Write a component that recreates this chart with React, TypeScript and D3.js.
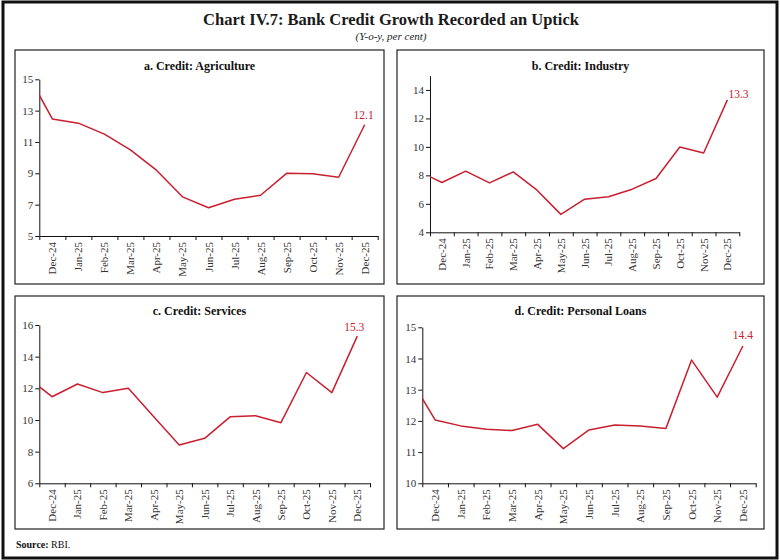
import React, { useEffect, useRef } from 'react'

import * as d3 from 'd3'

// Months; the first one (Nov-24) sits left of the axis and is clipped away
const months = [
  'Nov-24', 'Dec-24', 'Jan-25', 'Feb-25', 'Mar-25', 'Apr-25', 'May-25',
  'Jun-25', 'Jul-25', 'Aug-25', 'Sep-25', 'Oct-25', 'Nov-25', 'Dec-25',
]

// Y-o-y growth, per cent
const agriculture = [15.5, 12.47, 12.2, 11.5, 10.5, 9.2, 7.5, 6.8, 7.35, 7.6, 9.0, 8.97, 8.75, 12.1]
const industry = [8.3, 7.5, 8.3, 7.47, 8.24, 6.96, 5.26, 6.33, 6.5, 7.03, 7.78, 9.99, 9.57, 13.3]
const services = [12.73, 11.47, 12.27, 11.73, 12.0, 10.2, 8.42, 8.84, 10.2, 10.27, 9.83, 13.0, 11.73, 15.3]
const personalLoans = [13.41, 12.03, 11.84, 11.73, 11.69, 11.89, 11.11, 11.71, 11.87, 11.84, 11.76, 13.95, 12.76, 14.4]

const agriTicks = [5, 7, 9, 11, 13, 15]
const industryTicks = [4, 6, 8, 10, 12, 14]
const servicesTicks = [6, 8, 10, 12, 14, 16]
const loansTicks = [10, 11, 12, 13, 14, 15]

const lastLabels = ['12.1', '13.3', '15.3', '14.4']

const RED = '#c8202f'
const FONT = '"Liberation Serif", "DejaVu Serif", serif'

const panels = [
  {
    title: 'a. Credit: Agriculture', values: agriculture, ticks: agriTicks, domain: [5, 15],
    box: { x: 15, y: 50, w: 369, h: 234 }, plot: { x0: 39.3, x1: 377.7, y0: 79.3, y1: 236 },
    titleY: 70, label: lastLabels[0], dx: -1, dy: -6, anchor: 'middle',
  },
  {
    title: 'b. Credit: Industry', values: industry, ticks: industryTicks, domain: [4, 15],
    box: { x: 397, y: 50, w: 367, h: 234 }, plot: { x0: 430, x1: 739.3, y0: 75.7, y1: 232.3 },
    titleY: 70, label: lastLabels[1], dx: 1, dy: -2, anchor: 'start',
  },
  {
    title: 'c. Credit: Services', values: services, ticks: servicesTicks, domain: [6, 16],
    box: { x: 15, y: 296, w: 369, h: 233 }, plot: { x0: 39.3, x1: 370, y0: 325, y1: 483.3 },
    titleY: 315, label: lastLabels[2], dx: -3, dy: -5, anchor: 'middle',
  },
  {
    title: 'd. Credit: Personal Loans', values: personalLoans, ticks: loansTicks, domain: [10, 15],
    box: { x: 397, y: 296, w: 367, h: 233 }, plot: { x0: 422.3, x1: 755.7, y0: 327.3, y1: 483.3 },
    titleY: 315, label: lastLabels[3], dx: 0, dy: -7, anchor: 'middle',
  },
]

const App: React.FC = () => {
  const ref = useRef<SVGSVGElement | null>(null)

  useEffect(() => {
    document.body.style.margin = '0'
    const svg = d3.select(ref.current)
    svg.selectAll('*').remove()

    // Outer frame
    svg.append('rect')
      .attr('x', 3).attr('y', 2).attr('width', 774).attr('height', 556)
      .attr('fill', 'none').attr('stroke', '#111').attr('stroke-width', 3)

    svg.append('text')
      .attr('x', 391).attr('y', 25)
      .attr('text-anchor', 'middle')
      .attr('font-family', FONT).attr('font-size', 16.5).attr('font-weight', 'bold')
      .attr('fill', '#1a1a1a')
      .text('Chart IV.7: Bank Credit Growth Recorded an Uptick')

    svg.append('text')
      .attr('x', 391).attr('y', 40)
      .attr('text-anchor', 'middle')
      .attr('font-family', FONT).attr('font-size', 11).attr('font-style', 'italic')
      .attr('fill', '#222')
      .text('(Y-o-y, per cent)')

    panels.forEach((p, k) => {
      const g = svg.append('g')

      g.append('rect')
        .attr('x', p.box.x).attr('y', p.box.y).attr('width', p.box.w).attr('height', p.box.h)
        .attr('fill', 'none').attr('stroke', '#222').attr('stroke-width', 1.2)

      g.append('text')
        .attr('x', p.box.x + p.box.w / 2).attr('y', p.titleY)
        .attr('text-anchor', 'middle')
        .attr('font-family', FONT).attr('font-size', 12).attr('font-weight', 'bold')
        .attr('fill', '#111')
        .text(p.title)

      const x = d3.scaleLinear().domain([0.5, months.length - 0.5]).range([p.plot.x0, p.plot.x1])
      const y = d3.scaleLinear().domain(p.domain).range([p.plot.y1, p.plot.y0])

      // Y axis
      const ya = g.append('g')
        .attr('transform', `translate(${p.plot.x0},0)`)
        .call(d3.axisLeft(y).tickValues(p.ticks).tickSize(4).tickSizeOuter(0).tickFormat(d3.format('d')))
      ya.select('.domain').attr('stroke', '#111')
      ya.selectAll('.tick line').attr('stroke', '#111')
      ya.selectAll('.tick text')
        .attr('font-family', FONT).attr('font-size', 11).attr('fill', '#333').attr('x', -6)

      // X axis: ticks at category boundaries, labels at centres
      const xa = g.append('g')
        .attr('transform', `translate(0,${p.plot.y1})`)
        .call(d3.axisBottom(x).tickValues(d3.range(0.5, months.length, 1)).tickSize(4).tickSizeOuter(0).tickFormat(() => ''))
      xa.select('.domain').attr('stroke', '#111')
      xa.selectAll('.tick line').attr('stroke', '#111')

      g.selectAll('.xlab')
        .data(months.slice(1))
        .enter()
        .append('text')
        .attr('class', 'xlab')
        .attr('transform', (d, i) => `translate(${x(i + 1) + 4},${p.plot.y1 + 6}) rotate(-90)`)
        .attr('text-anchor', 'end')
        .attr('font-family', FONT).attr('font-size', 11).attr('fill', '#333')
        .text((d) => d)

      // Line, clipped to the plot area
      const clipId = `clip-${k}`
      g.append('clipPath').attr('id', clipId)
        .append('rect')
        .attr('x', p.plot.x0).attr('y', p.box.y)
        .attr('width', p.plot.x1 - p.plot.x0).attr('height', p.plot.y1 - p.box.y)

      const line = d3.line<number>()
        .x((d, i) => x(i))
        .y((d) => y(d))

      g.append('path')
        .datum(p.values)
        .attr('clip-path', `url(#${clipId})`)
        .attr('d', line)
        .attr('fill', 'none')
        .attr('stroke', RED)
        .attr('stroke-width', 1.5)
        .attr('stroke-linejoin', 'round')

      const last = p.values.length - 1
      g.append('text')
        .attr('x', x(last) + p.dx).attr('y', y(p.values[last]) + p.dy)
        .attr('text-anchor', p.anchor)
        .attr('font-family', FONT).attr('font-size', 11.5)
        .attr('fill', RED)
        .text(p.label)
    })

    const src = svg.append('text')
      .attr('x', 16).attr('y', 548)
      .attr('font-family', FONT).attr('font-size', 10).attr('fill', '#111')
    src.append('tspan').attr('font-weight', 'bold').text('Source:')
    src.append('tspan').text(' RBI.')
  }, [])

  return <svg ref={ref} width={780} height={560} style={{ display: 'block' }}></svg>
}

export default App
